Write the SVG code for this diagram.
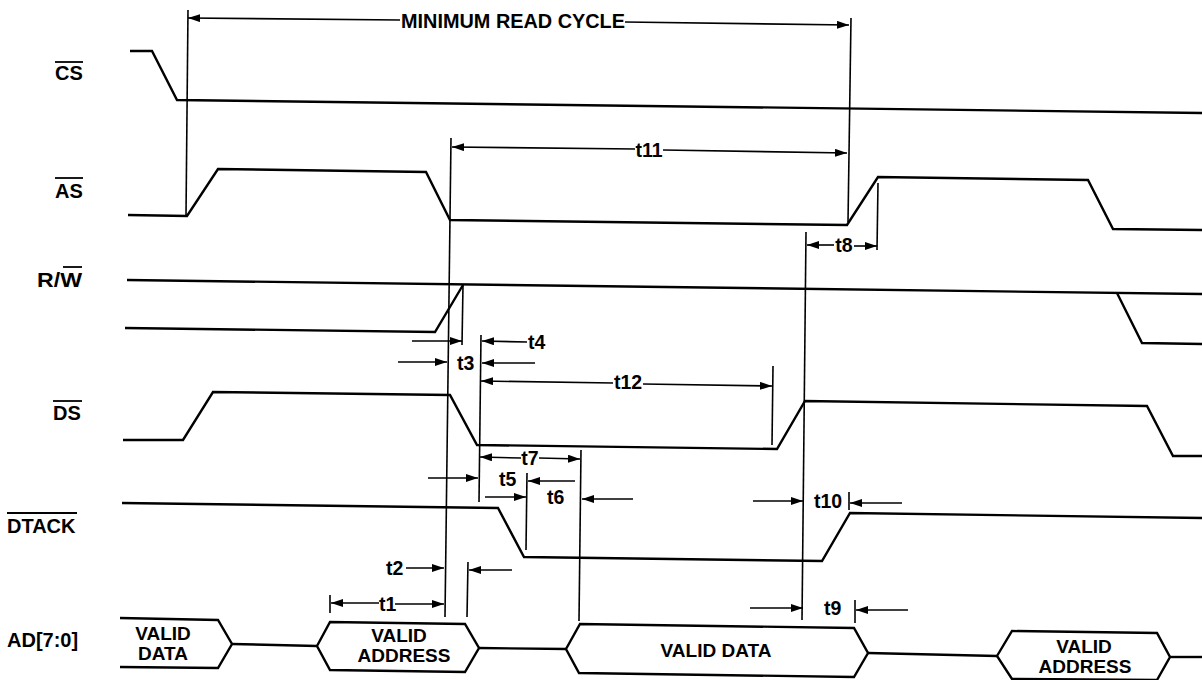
<svg xmlns="http://www.w3.org/2000/svg" width="1202" height="680" viewBox="0 0 1202 680">
<style>
.bg{fill:#ffffff}
.sig{fill:none;stroke:#000;stroke-width:2.4;stroke-linejoin:miter}
.bus{fill:none;stroke:#000;stroke-width:2.4;stroke-linejoin:miter}
.ref{fill:none;stroke:#000;stroke-width:1.6}
.arr{fill:none;stroke:#000;stroke-width:1.6}
.ovl{stroke:#000;stroke-width:1.8}
.lbl{font-family:"Liberation Sans",Arial,Helvetica,sans-serif;font-weight:bold;font-size:20px;fill:#000}
.tl{font-family:"Liberation Sans",Arial,Helvetica,sans-serif;font-weight:bold;font-size:19.5px;fill:#000}
.bl{font-family:"Liberation Sans",Arial,Helvetica,sans-serif;font-weight:bold;font-size:19px;fill:#000;text-anchor:middle}
</style>
<defs>
<marker id="ah" markerUnits="userSpaceOnUse" markerWidth="12" markerHeight="8" refX="12" refY="4" orient="auto-start-reverse" viewBox="0 0 12 8">
<path d="M0,0 L12,4 L0,8 Z" fill="#000"/>
</marker>
</defs>
<rect class="bg" x="0" y="0" width="1202" height="680"/>

<g id="sig-cs">
<text class="lbl" x="55" y="80">CS</text>
<line class="ovl" x1="55" y1="62" x2="83" y2="62"/>
<path class="sig" d="M130,51 L152,51 L177,100 L1202,113"/>
</g>

<g id="sig-as">
<text class="lbl" x="55" y="198">AS</text>
<line class="ovl" x1="55" y1="178" x2="83" y2="178"/>
<path class="sig" d="M128,215 L187,216 L218,169 L426,172 L450,220 L847,225 L878,177 L1088,180 L1113,229 L1202,230"/>
</g>

<g id="sig-rw">
<text class="lbl" x="37" y="287" textLength="45" lengthAdjust="spacingAndGlyphs">R/W</text>
<line class="ovl" x1="63" y1="267" x2="82" y2="267"/>
<path class="sig" d="M127,280 L1202,294"/>
<path class="sig" d="M1117,293 L1142,343 L1202,344"/>
<path class="sig" d="M125,328 L435,332 L463,285"/>
</g>

<g id="sig-ds">
<text class="lbl" x="53" y="420">DS</text>
<line class="ovl" x1="53" y1="401" x2="82" y2="401"/>
<path class="sig" d="M123,440 L183,440 L213,392 L450,395 L477,445 L777,449 L805,401 L1147,406 L1173,456 L1202,456"/>
</g>

<g id="sig-dtack">
<text class="lbl" x="7" y="533">DTACK</text>
<line class="ovl" x1="7" y1="513" x2="77" y2="513"/>
<path class="sig" d="M122,503 L498,508 L524,557 L822,561 L850,513 L1202,518"/>
</g>

<g id="sig-ad">
<text class="lbl" x="7" y="647">AD[7:0]</text>
<path class="bus" d="M120,618 L218,620 L232,644 L218,668 L120,667"/>
<path class="bus" d="M232,644 L317,646"/>
<path class="bus" d="M317,646 L330,622 L465,624 L479,648 L465,672 L330,670 Z"/>
<path class="bus" d="M479,648 L566,649"/>
<path class="bus" d="M566,649 L580,624 L854,628 L868,653 L854,677 L579,673 Z"/>
<path class="bus" d="M868,653 L997,656"/>
<path class="bus" d="M997,656 L1012,631 L1157,633 L1170,657 L1157,680 L1012,679 Z"/>
<path class="bus" d="M1170,657 L1202,657"/>
<text class="bl" x="163" y="640">VALID</text>
<text class="bl" x="163" y="660">DATA</text>
<text class="bl" x="399" y="642">VALID</text>
<text class="bl" x="404" y="662">ADDRESS</text>
<text class="bl" x="716" y="657">VALID DATA</text>
<text class="bl" x="1084" y="653">VALID</text>
<text class="bl" x="1085" y="673">ADDRESS</text>
</g>

<g id="connectors">
<line class="ref" x1="188" y1="10" x2="186" y2="215"/>
<line class="ref" x1="851" y1="18" x2="848" y2="222"/>
<line class="ref" x1="451" y1="138" x2="445" y2="617"/>
<line class="ref" x1="463" y1="285" x2="462" y2="345"/>
<line class="ref" x1="481" y1="335" x2="479" y2="502"/>
<line class="ref" x1="527" y1="473" x2="526" y2="550"/>
<line class="ref" x1="581" y1="450" x2="579" y2="621"/>
<line class="ref" x1="773" y1="366" x2="772" y2="445"/>
<line class="ref" x1="806" y1="232" x2="802" y2="620"/>
<line class="ref" x1="878" y1="183" x2="877" y2="250"/>
<line class="ref" x1="849" y1="492" x2="849" y2="510"/>
<line class="ref" x1="855" y1="600" x2="855" y2="623"/>
<line class="ref" x1="468" y1="562" x2="467" y2="617"/>
<line class="ref" x1="330" y1="595" x2="330" y2="613"/>

<line class="arr" x1="188" y1="18" x2="400" y2="20" marker-start="url(#ah)"/>
<line class="arr" x1="625" y1="22" x2="849" y2="25" marker-end="url(#ah)"/>
<text class="tl" x="401" y="28" textLength="224" lengthAdjust="spacingAndGlyphs" font-size="20">MINIMUM READ CYCLE</text>

<line class="arr" x1="452" y1="147" x2="635" y2="149" marker-start="url(#ah)"/>
<line class="arr" x1="663" y1="150" x2="847" y2="153" marker-end="url(#ah)"/>
<text class="tl" x="649" y="157" text-anchor="middle">t11</text>

<line class="arr" x1="807" y1="245" x2="834" y2="245" marker-start="url(#ah)"/>
<line class="arr" x1="854" y1="246" x2="877" y2="246" marker-end="url(#ah)"/>
<text class="tl" x="844" y="252" text-anchor="middle">t8</text>

<line class="arr" x1="412" y1="341" x2="462" y2="341" marker-end="url(#ah)"/>
<line class="arr" x1="398" y1="362" x2="447" y2="362" marker-end="url(#ah)"/>
<text class="tl" x="457" y="370">t3</text>
<line class="arr" x1="527" y1="342" x2="482" y2="341" marker-end="url(#ah)"/>
<line class="arr" x1="535" y1="363" x2="482" y2="363" marker-end="url(#ah)"/>
<text class="tl" x="528" y="349">t4</text>

<line class="arr" x1="481" y1="381" x2="613" y2="383" marker-start="url(#ah)"/>
<line class="arr" x1="643" y1="384" x2="772" y2="386" marker-end="url(#ah)"/>
<text class="tl" x="628" y="389" text-anchor="middle">t12</text>

<line class="arr" x1="480" y1="457" x2="521" y2="458" marker-start="url(#ah)"/>
<line class="arr" x1="539" y1="458" x2="580" y2="459" marker-end="url(#ah)"/>
<text class="tl" x="530" y="465" text-anchor="middle">t7</text>

<line class="arr" x1="428" y1="478" x2="478" y2="478" marker-end="url(#ah)"/>
<line class="arr" x1="485" y1="497" x2="526" y2="497" marker-end="url(#ah)"/>
<text class="tl" x="499" y="486">t5</text>
<line class="arr" x1="575" y1="481" x2="528" y2="481" marker-end="url(#ah)"/>
<line class="arr" x1="633" y1="499" x2="582" y2="499" marker-end="url(#ah)"/>
<text class="tl" x="547" y="504">t6</text>

<line class="arr" x1="753" y1="501" x2="803" y2="501" marker-end="url(#ah)"/>
<line class="arr" x1="902" y1="503" x2="850" y2="503" marker-end="url(#ah)"/>
<text class="tl" x="814" y="508">t10</text>

<line class="arr" x1="750" y1="608" x2="803" y2="608" marker-end="url(#ah)"/>
<line class="arr" x1="908" y1="610" x2="856" y2="610" marker-end="url(#ah)"/>
<text class="tl" x="824" y="615">t9</text>

<line class="arr" x1="406" y1="568" x2="444" y2="568" marker-end="url(#ah)"/>
<line class="arr" x1="512" y1="570" x2="469" y2="570" marker-end="url(#ah)"/>
<text class="tl" x="386" y="575">t2</text>

<line class="arr" x1="331" y1="603" x2="379" y2="603" marker-start="url(#ah)"/>
<line class="arr" x1="395" y1="604" x2="444" y2="604" marker-end="url(#ah)"/>
<text class="tl" x="379" y="611">t1</text>
</g>
</svg>
